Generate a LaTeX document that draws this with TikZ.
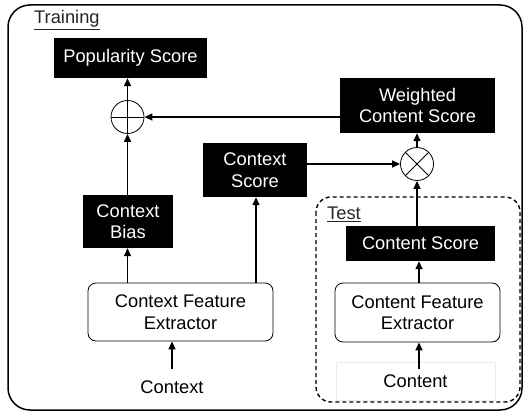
\documentclass[tikz,border=0pt]{standalone}
\usepackage{fontspec}
\setmainfont{Liberation Sans}
\usetikzlibrary{arrows.meta}
\begin{document}
\begin{tikzpicture}[x=1pt,y=-1pt,
  font=\fontsize{18.3}{21.5}\selectfont,
  blk/.style={fill=black,text=white,align=center,inner sep=0pt},
  fe/.style={draw,rounded corners=8pt,align=center,inner sep=0pt,line width=0.8pt},
  arr/.style={-{Triangle[length=8pt,width=7pt]},line width=1.4pt},
  opc/.style={circle,draw,line width=0.8pt,minimum size=33pt,inner sep=0pt},
  lbl/.style={anchor=west,inner sep=0pt,text=black!85}]
\useasboundingbox (0,0) rectangle (526,414);
\draw[line width=1.5pt,rounded corners=22pt] (8,5) rectangle (522,410);
\draw[line width=1.4pt,dash pattern=on 4pt off 3pt,rounded corners=15pt] (316,197) rectangle (520,402);
\node[lbl] (train) at (34,20) {\underline{Training}};
\node[lbl] (test) at (327,214) {\underline{Test}};

\node[blk,minimum width=153pt,minimum height=40pt] (pop) at (130.5,58) {Popularity Score};
\node[opc,path picture={\draw[line width=0.8pt] (path picture bounding box.north) -- (path picture bounding box.south) (path picture bounding box.west) -- (path picture bounding box.east);}] (plus) at (127.5,117) {};
\node[blk,minimum width=155pt,minimum height=55pt] (wcs) at (417.5,105.5) {Weighted\\Content Score};
\node[blk,minimum width=104pt,minimum height=54pt] (cs) at (255,170) {Context\\Score};
\node[opc,path picture={\draw[line width=0.8pt] (path picture bounding box.north west) -- (path picture bounding box.south east) (path picture bounding box.south west) -- (path picture bounding box.north east);}] (ot) at (417,164) {};
\node[blk,minimum width=90pt,minimum height=53pt] (cb) at (128,221.5) {Context\\Bias};
\node[fe,minimum width=185pt,minimum height=58pt] (cfe) at (180.5,312) {Context Feature\\Extractor};
\node[inner sep=0pt] (ctx) at (172,387) {Context};
\node[blk,minimum width=149pt,minimum height=35pt] (cnts) at (420.5,243.5) {Content Score};
\node[fe,minimum width=165pt,minimum height=59pt] (cnfe) at (417.5,312.5) {Content Feature\\Extractor};
\node[draw=black!8,minimum width=159pt,minimum height=38pt,inner sep=0pt] (cnt) at (415.5,381) {Content};

\draw[arr] (plus.north) -- (plus.north |- pop.south);
\draw[arr] (wcs.west |- plus) -- (plus.east);
\draw[arr] (cs.east |- ot) -- (ot.west);
\draw[arr] (ot.north) -- (ot.north |- wcs.south);
\draw[arr] (cb.north -| plus) -- (plus.south);
\draw[arr] (cfe.north -| plus) -- (cb.south -| plus);
\draw[arr] (256,0 |- cfe.north) -- (256,0 |- cs.south);
\coordinate (ctxtop) at (172,369);
\draw[arr] (ctxtop) -- (ctxtop |- cfe.south);
\coordinate (cnttop) at (419,369);
\draw[arr] (cnttop) -- (cnttop |- cnfe.south);
\draw[arr] (cnfe.north -| cnttop) -- (cnts.south -| cnttop);
\draw[arr] (cnts.north -| ot) -- (ot.south);
\end{tikzpicture}
\end{document}
